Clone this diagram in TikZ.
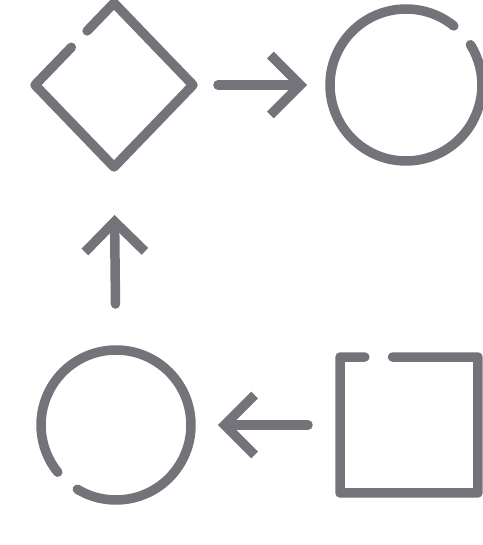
\documentclass[tikz,border=0pt]{standalone}
\usetikzlibrary{shapes.geometric,arrows.meta,calc}
\definecolor{pengray}{RGB}{115,115,121}
\begin{document}
\begin{tikzpicture}[x=0.02cm,y=0.02cm,
    pen/.style={draw=pengray,line width=0.19cm,line cap=round,line join=round},
    link/.style={pen,-{Straight Barb[length=0.6cm,width=1.2cm]}},
    blank/.style={inner sep=0pt,outer sep=0pt}]
  \useasboundingbox (0,0) rectangle (483,545);
  \node[blank,diamond,minimum width=3.16cm,minimum height=3.28cm] (dia) at (114,460) {};
  \node[blank,circle,minimum size=3.04cm] (ctop) at (406,460) {};
  \node[blank,circle,minimum size=3cm] (cbot) at (116,120) {};
  \node[blank,rectangle,minimum width=2.76cm,minimum height=2.72cm] (sq) at (409,120) {};
  % outlines, each with one gap
  \draw[pen] ($(dia.west)!0.46!(dia.north)$) -- (dia.west) -- (dia.south) -- (dia.east) -- (dia.north) -- ($(dia.west)!0.66!(dia.north)$);
  \draw[pen] (ctop.51) arc[start angle=51,end angle=392,radius=1.52cm];
  \draw[pen] (cbot.239) arc[start angle=239,end angle=579,radius=1.5cm];
  \draw[pen] ($(sq.north west)!0.18!(sq.north east)$) -- (sq.north west) -- (sq.south west) -- (sq.south east) -- (sq.north east) -- ($(sq.north west)!0.38!(sq.north east)$);
  % connectors
  \draw[link,shorten <=0.5cm,shorten >=0.46cm] (dia.east) -- (ctop.west);
  \draw[link,shorten <=0.92cm,shorten >=0.96cm] (cbot.north) -- (dia.south);
  \draw[link,shorten <=0.64cm,shorten >=0.54cm] (sq.west) -- (cbot.east);
\end{tikzpicture}
\end{document}
